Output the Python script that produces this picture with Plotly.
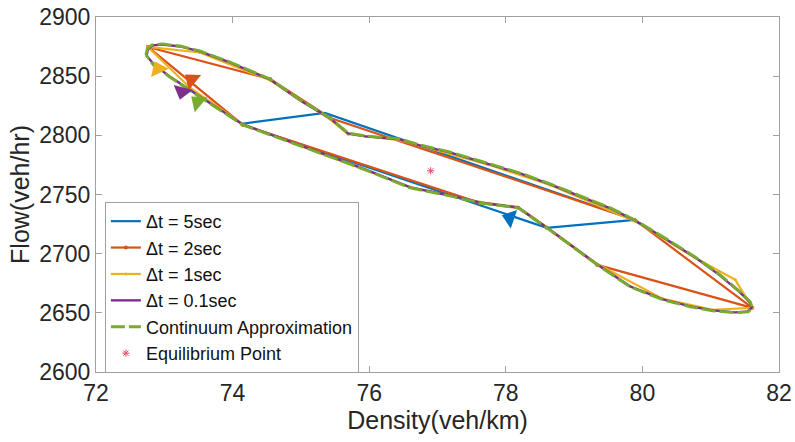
import plotly.graph_objects as go

# ---- data ----
# Continuum approximation (closed loop)
cont_x = [72.73, 72.75, 72.82, 72.97, 73.23, 73.52, 73.96, 74.55, 74.99, 75.43, 75.69, 75.94,
          76.45, 76.74, 77.18, 77.73, 78.21, 78.65, 79.09, 79.53, 79.89, 80.33, 80.77, 81.14,
          81.43, 81.58, 81.61, 81.55, 81.36, 81.03, 80.70, 80.30, 79.82, 79.34, 78.94, 78.60,
          78.18, 77.92, 77.62, 77.18, 76.60, 75.87, 74.99, 74.15, 73.52, 73.08, 72.84, 72.73]
cont_y = [2867.9, 2873.0, 2876.4, 2877.2, 2875.5, 2871.3, 2862.0, 2847.6, 2829.9, 2814.7, 2802.0, 2799.5,
          2797.0, 2791.9, 2786.0, 2776.7, 2768.2, 2759.0, 2748.8, 2738.7, 2728.5, 2713.3, 2697.3, 2682.1,
          2667.7, 2659.3, 2654.2, 2650.8, 2650.0, 2651.7, 2655.1, 2661.0, 2672.0, 2690.5, 2707.4, 2721.8,
          2738.7, 2740.4, 2742.9, 2748.8, 2755.6, 2772.5, 2791.0, 2808.8, 2832.4, 2849.3, 2859.5, 2867.9]

# dt = 0.1 sec (virtually on top of the continuum curve)
dt01_x = [72.74, 72.76, 72.83, 72.97, 73.23, 73.52, 73.96, 74.55, 74.99, 75.43, 75.69, 75.94,
          76.45, 76.74, 77.18, 77.73, 78.21, 78.65, 79.09, 79.53, 79.89, 80.33, 80.77, 81.13,
          81.42, 81.57, 81.60, 81.54, 81.36, 81.03, 80.70, 80.30, 79.82, 79.34, 78.94, 78.60,
          78.18, 77.92, 77.62, 77.18, 76.60, 75.87, 74.99, 74.15, 73.52, 73.08, 72.85, 72.74]
dt01_y = [2867.5, 2872.6, 2876.0, 2876.8, 2875.1, 2870.9, 2861.6, 2847.2, 2829.5, 2814.3, 2801.6, 2799.1,
          2796.6, 2791.5, 2785.6, 2776.3, 2767.8, 2758.6, 2748.4, 2738.3, 2728.1, 2712.9, 2696.9, 2681.9,
          2667.7, 2659.3, 2654.4, 2651.2, 2650.4, 2652.1, 2655.5, 2661.4, 2672.4, 2690.9, 2707.8, 2722.2,
          2739.1, 2740.8, 2743.3, 2749.2, 2756.0, 2772.9, 2791.4, 2809.2, 2832.8, 2849.7, 2859.7, 2867.5]

# dt = 1 sec
dt1_x = [72.76, 73.52, 74.55, 75.43, 75.69, 76.45, 77.73, 78.65, 79.89, 80.77, 81.36, 81.61,
         81.03, 80.30, 79.34, 78.60, 78.18, 77.62, 76.60, 74.99, 74.15, 73.38, 72.76]
dt1_y = [2874.7, 2870.0, 2846.5, 2813.5, 2801.0, 2796.0, 2775.5, 2758.0, 2727.5, 2696.5, 2677.9, 2654.2,
         2652.5, 2661.8, 2691.2, 2722.5, 2739.4, 2743.6, 2756.3, 2791.7, 2809.5, 2840.0, 2874.7]

# dt = 2 sec
dt2_x = [72.76, 74.55, 75.43, 79.89, 81.61, 79.34, 78.60, 78.18, 77.62, 74.15, 72.76]
dt2_y = [2874.7, 2847.6, 2814.7, 2728.5, 2654.2, 2690.5, 2721.8, 2738.7, 2742.9, 2808.8, 2874.7]

# dt = 5 sec
dt5_x = [74.11, 75.35, 79.89, 78.60, 74.11]
dt5_y = [2809.6, 2818.9, 2728.5, 2721.8, 2809.6]

# equilibrium point
eq_x = [76.9]
eq_y = [2770.0]

# direction arrows (position and heading in degrees, clockwise from up)
arrow_names = ["dt5", "dt2", "dt1", "dt01", "cont"]
arrow_x = [78.06, 73.40, 72.91, 73.26, 73.49]
arrow_y = [2730.2, 2846.8, 2856.1, 2837.0, 2828.2]
arrow_angle = [-71, -51, -25, 195, -50]

x_ticks = [72, 74, 76, 78, 80, 82]
y_ticks = [2600, 2650, 2700, 2750, 2800, 2850, 2900]

# ---- styling ----
C_BLUE = "#0072BD"
C_ORANGE = "#D95319"
C_YELLOW = "#EDB120"
C_PURPLE = "#7E2F8E"
C_GREEN = "#77AC30"
C_RED = "#E0506A"
arrow_colors = [C_BLUE, C_ORANGE, C_YELLOW, C_PURPLE, C_GREEN]

FONT = "Liberation Sans, Arial, sans-serif"

fig = go.Figure()
fig.add_trace(go.Scatter(x=dt5_x, y=dt5_y, mode="lines", name="\u0394t = 5sec",
                         line=dict(color=C_BLUE, width=2.2)))
fig.add_trace(go.Scatter(x=dt2_x, y=dt2_y, mode="lines+markers", name="\u0394t = 2sec",
                         line=dict(color=C_ORANGE, width=2.2),
                         marker=dict(color=C_ORANGE, size=4)))
fig.add_trace(go.Scatter(x=dt1_x, y=dt1_y, mode="lines+markers", name="\u0394t = 1sec",
                         line=dict(color=C_YELLOW, width=2.2),
                         marker=dict(color=C_YELLOW, size=3)))
fig.add_trace(go.Scatter(x=dt01_x, y=dt01_y, mode="lines", name="\u0394t = 0.1sec",
                         line=dict(color=C_PURPLE, width=2.4)))
fig.add_trace(go.Scatter(x=cont_x, y=cont_y, mode="lines", name="Continuum Approximation",
                         line=dict(color=C_GREEN, width=2.8, dash="14px,4px")))
fig.add_trace(go.Scatter(x=eq_x, y=eq_y, mode="markers", name="Equilibrium Point",
                         marker=dict(color=C_RED, size=6, symbol="asterisk-open",
                                     line=dict(color=C_RED, width=1))))

for i in range(len(arrow_x)):
    fig.add_trace(go.Scatter(x=[arrow_x[i]], y=[arrow_y[i]], mode="markers", showlegend=False,
                             hoverinfo="skip",
                             marker=dict(symbol="triangle-up", size=17, angle=arrow_angle[i],
                                         color=arrow_colors[i], line=dict(width=0))))

axis_common = dict(
    showgrid=False, zeroline=False, showline=True, linecolor="#A0A0A0", linewidth=1,
    mirror="ticks", ticks="inside", ticklen=6, tickcolor="#A0A0A0", automargin=False,
    tickfont=dict(family=FONT, size=23, color="#262626"),
)

fig.update_layout(
    width=795, height=442,
    margin=dict(l=96, r=16, t=17, b=70),
    paper_bgcolor="white", plot_bgcolor="white",
    font=dict(family=FONT, color="#262626"),
    xaxis=dict(range=[72, 82], tickvals=x_ticks, ticktext=[str(v) for v in x_ticks],
               title=dict(text="Density(veh/km)", font=dict(family=FONT, size=25, color="#262626"),
                          standoff=4),
               **axis_common),
    yaxis=dict(range=[2600, 2900], tickvals=y_ticks, ticktext=[str(v) for v in y_ticks],
               title=dict(text="Flow(veh/hr)", font=dict(family=FONT, size=25, color="#262626"),
                          standoff=2),
               **axis_common),
    legend=dict(x=0.013, y=0.479, xanchor="left", yanchor="top",
                bgcolor="white", bordercolor="#A0A0A0", borderwidth=1,
                font=dict(family=FONT, size=18, color="#111111"),
                tracegroupgap=0, itemwidth=30),
    showlegend=True,
)

fig.write_html("out.html")
